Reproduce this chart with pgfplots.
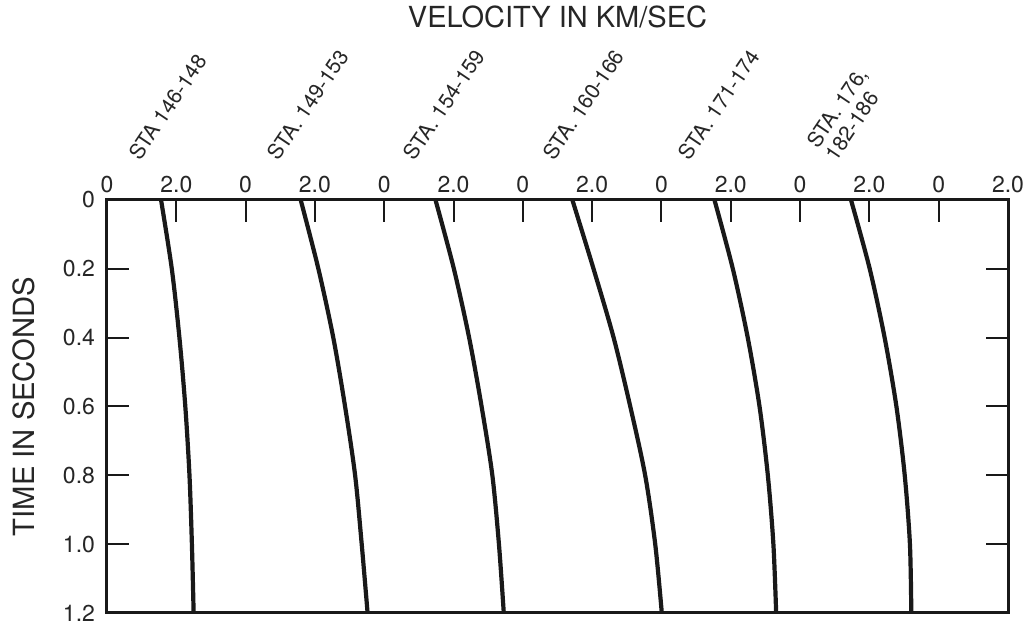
\documentclass[border=0pt]{standalone}
\usepackage{fontspec}
\setmainfont{TeX Gyre Heros}
\usepackage{pgfplots}
\pgfplotsset{compat=1.18}
\usepackage{pgfplotstable}
\usetikzlibrary{calc}

% velocity (km/s) vs time (s); each station panel is offset by 4 km/s
\pgfplotstableread{
t v
0.0 1.56
0.2 1.87
0.4 2.09
0.6 2.26
0.8 2.38
1.0 2.45
1.2 2.50
}\staA
\pgfplotstableread{
t v
0.0 1.59
0.2 2.10
0.4 2.53
0.6 2.87
0.8 3.16
1.0 3.35
1.2 3.52
}\staB
\pgfplotstableread{
t v
0.0 1.48
0.2 2.01
0.4 2.45
0.6 2.81
0.8 3.12
1.0 3.31
1.2 3.45
}\staC
\pgfplotstableread{
t v
0.0 1.43
0.2 2.04
0.4 2.62
0.6 3.10
0.8 3.53
1.0 3.82
1.2 4.01
}\staD
\pgfplotstableread{
t v
0.0 1.53
0.2 2.06
0.4 2.49
0.6 2.83
0.8 3.07
1.0 3.23
1.2 3.31
}\staE
\pgfplotstableread{
t v
0.0 1.47
0.2 2.01
0.4 2.44
0.6 2.78
0.8 3.02
1.0 3.17
1.2 3.21
}\staF

\begin{document}
\begin{tikzpicture}
\begin{axis}[
  scale only axis, width=450.5pt, height=206.5pt,
  xmin=0, xmax=26, ymin=0, ymax=1.2, y dir=reverse,
  axis line style={line width=1.5pt, black!90},
  xtick={0,2,4,6,8,10,12,14,16,18,20,22,24,26},
  xticklabels={0,2.0,0,2.0,0,2.0,0,2.0,0,2.0,0,2.0,0,2.0},
  xtick pos=upper, xticklabel pos=upper,
  ytick={0,0.2,0.4,0.6,0.8,1.0,1.2},
  yticklabels={0,0.2,0.4,0.6,0.8,1.0,1.2},
  ytick pos=both, yticklabel pos=left,
  tick align=inside, major tick length=11pt,
  tick style={line width=1pt, black!90},
  ticklabel style={font=\fontsize{11.5}{12}\selectfont, text=black!85},
  yticklabel style={xshift=-2.5pt},
  /pgf/number format/assume math mode=true,
  clip=false,
]
\addplot[black!90, line width=2.1pt, smooth] table[x expr=\thisrow{v}+0, y=t] {\staA};
\addplot[black!90, line width=2.1pt, smooth] table[x expr=\thisrow{v}+4, y=t] {\staB};
\addplot[black!90, line width=2.1pt, smooth] table[x expr=\thisrow{v}+8, y=t] {\staC};
\addplot[black!90, line width=2.1pt, smooth] table[x expr=\thisrow{v}+12, y=t] {\staD};
\addplot[black!90, line width=2.1pt, smooth] table[x expr=\thisrow{v}+16, y=t] {\staE};
\addplot[black!90, line width=2.1pt, smooth] table[x expr=\thisrow{v}+20, y=t] {\staF};

\node[font=\fontsize{14.5}{16}\selectfont, anchor=base, text=black!85] at ($(axis cs:13,0)+(0,86pt)$) {VELOCITY IN KM/SEC};
\node[font=\fontsize{14.6}{16}\selectfont, anchor=base, rotate=90, text=black!85] at ($(axis cs:0,0.6)+(-36pt,0)$) {TIME IN SECONDS};

\tikzset{sta/.style={font=\fontsize{10.5}{11}\selectfont, anchor=base west, rotate=56, inner sep=0pt, text=black!85}}
\node[sta] at ($(axis cs:0.95,0)+(0,19pt)$) {STA 146-148};
\node[sta] at ($(axis cs:4.95,0)+(0,19pt)$) {STA. 149-153};
\node[sta] at ($(axis cs:8.88,0)+(0,19pt)$) {STA. 154-159};
\node[sta] at ($(axis cs:12.90,0)+(0,19pt)$) {STA. 160-166};
\node[sta] at ($(axis cs:16.81,0)+(0,19pt)$) {STA. 171-174};
\node[sta] at ($(axis cs:20.52,0)+(0,25pt)$) {STA. 176,};
\node[sta] at ($(axis cs:20.52,0)+(0,25pt)+(9.1pt,-6.2pt)$) {182-186};
\end{axis}
\pgfresetboundingbox
\path[use as bounding box] (-53.5pt,-6pt) rectangle (461pt,306.5pt);
\end{tikzpicture}
\end{document}
